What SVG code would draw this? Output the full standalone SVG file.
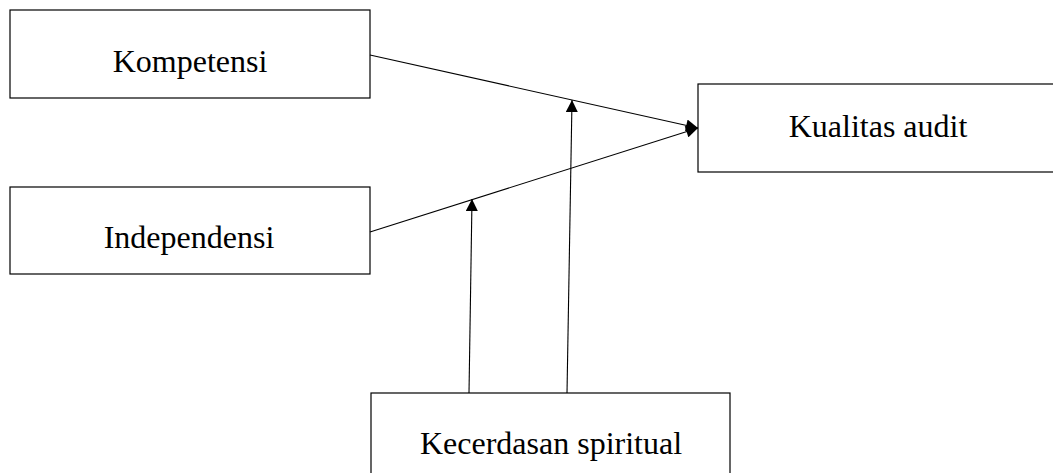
<svg xmlns="http://www.w3.org/2000/svg" width="1053" height="473" viewBox="0 0 1053 473">
<style>
.box{fill:#fff;stroke:#000;stroke-width:1.2}
.lbl{font-family:"Liberation Serif","Times New Roman",serif;font-size:32px;fill:#000;text-anchor:middle}
.con{stroke:#000;stroke-width:1.1;fill:none;marker-end:url(#ah)}
</style>
<defs>
<marker id="ah" viewBox="0 0 10 10" refX="10" refY="5" markerWidth="13" markerHeight="12" markerUnits="userSpaceOnUse" orient="auto">
<path d="M0,0 L10,5 L0,10 z" fill="#000"/>
</marker>
</defs>
<rect width="1053" height="473" fill="#fff"/>
<g id="kompetensi"><rect class="box" x="10" y="10" width="360" height="88"/><text class="lbl" x="190" y="71.5">Kompetensi</text></g>
<g id="independensi"><rect class="box" x="10" y="187" width="360" height="87"/><text class="lbl" x="189" y="247.5">Independensi</text></g>
<g id="kualitas"><rect class="box" x="698" y="84" width="362" height="88"/><text class="lbl" x="878" y="136.5">Kualitas audit</text></g>
<g id="kecerdasan"><rect class="box" x="371" y="393" width="359" height="90"/><text class="lbl" x="551" y="454">Kecerdasan spiritual</text></g>
<g id="connectors">
<line class="con" x1="370" y1="55" x2="698" y2="128"/>
<line class="con" x1="370" y1="232" x2="698" y2="128"/>
<line class="con" x1="567" y1="393" x2="572" y2="100"/>
<line class="con" x1="469" y1="393" x2="472" y2="199"/>
</g>
</svg>
